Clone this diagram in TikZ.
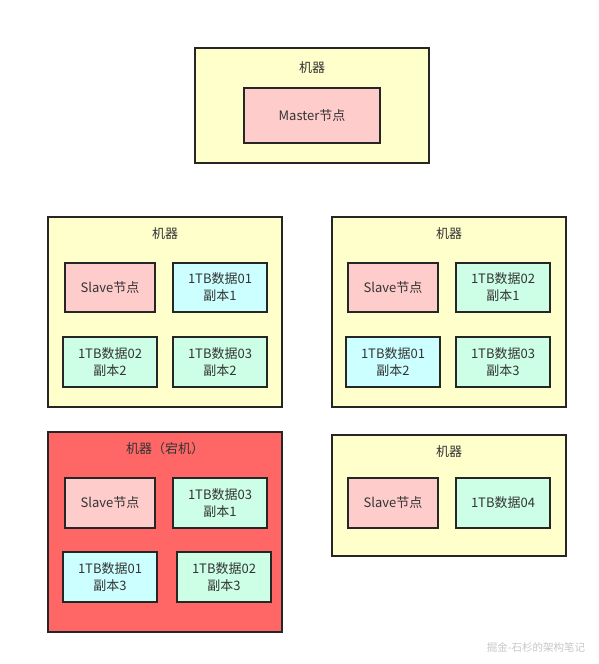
\documentclass[tikz,border=0pt]{standalone}
\usepackage{fontspec}
\setmainfont{Noto Sans CJK SC}
\begin{document}
\begin{tikzpicture}[x=1pt,y=-1pt,
  every node/.style={inner sep=0pt, text=black!80, font=\fontsize{13}{17}\selectfont, align=center},
  mach/.style={draw=black!85, line width=1.6pt, fill=yellowbg},
  item/.style={draw=black!85, line width=1.6pt, minimum height=49pt},
  slave/.style={item, fill=pinkbg, minimum width=90pt},
  cyanbox/.style={item, fill=cyanbg, minimum width=94pt},
  mintbox/.style={item, fill=mintbg, minimum width=94pt},
  ttl/.style={}]
\definecolor{yellowbg}{HTML}{FFFFCC}
\definecolor{pinkbg}{HTML}{FFCCCC}
\definecolor{cyanbg}{HTML}{CCFFFF}
\definecolor{mintbg}{HTML}{CCFFE6}
\definecolor{redbg}{HTML}{FF6666}
\useasboundingbox[fill=white] (0,0) rectangle (598,664);
% top machine
\node[mach, minimum width=234pt, minimum height=115pt] (mT) at (312,105.5) {};
\node[ttl] (tT) at (312,68) {机器};
\node[item, fill=pinkbg, minimum width=136pt, minimum height=55pt] (master) at (312,115.5) {Master节点};
% machine A
\node[mach, minimum width=234pt, minimum height=190pt] (mA) at (165,312) {};
\node[ttl] (tA) at (165,234) {机器};
\node[slave] (sA) at (110,287.5) {Slave节点};
\node[cyanbox] (dA1) at (220,287.5) {1TB数据01\\副本1};
\node[mintbox, minimum height=50pt] (dA2) at (110,362) {1TB数据02\\副本2};
\node[mintbox, minimum height=50pt] (dA3) at (220,362) {1TB数据03\\副本2};
% machine B
\node[mach, minimum width=234pt, minimum height=190pt] (mB) at (449,312) {};
\node[ttl] (tB) at (449,234) {机器};
\node[slave] (sB) at (393,287.5) {Slave节点};
\node[mintbox] (dB1) at (503,287.5) {1TB数据02\\副本1};
\node[cyanbox, minimum height=50pt] (dB2) at (393,362) {1TB数据01\\副本2};
\node[mintbox, minimum height=50pt] (dB3) at (503,362) {1TB数据03\\副本3};
% machine C (down)
\node[mach, fill=redbg, minimum width=234pt, minimum height=200pt] (mC) at (165,532) {};
\node[ttl] (tC) at (165,449) {机器（宕机）};
\node[slave, minimum height=50pt] (sC) at (110,503) {Slave节点};
\node[mintbox, minimum height=50pt] (dC1) at (220,503) {1TB数据03\\副本1};
\node[cyanbox, minimum height=50pt] (dC2) at (110,577) {1TB数据01\\副本3};
\node[mintbox, minimum height=50pt] (dC3) at (224,577) {1TB数据02\\副本3};
% machine D
\node[mach, minimum width=234pt, minimum height=121pt] (mD) at (449,495.5) {};
\node[ttl] (tD) at (449,452) {机器};
\node[slave, minimum height=50pt] (sD) at (393,503) {Slave节点};
\node[mintbox, minimum height=50pt] (dD) at (503,503) {1TB数据04};
% watermark
\node[text=black!22, font=\fontsize{10.5}{12}\selectfont] (wm) at (536,647) {掘金-石杉的架构笔记};
\end{tikzpicture}
\end{document}
